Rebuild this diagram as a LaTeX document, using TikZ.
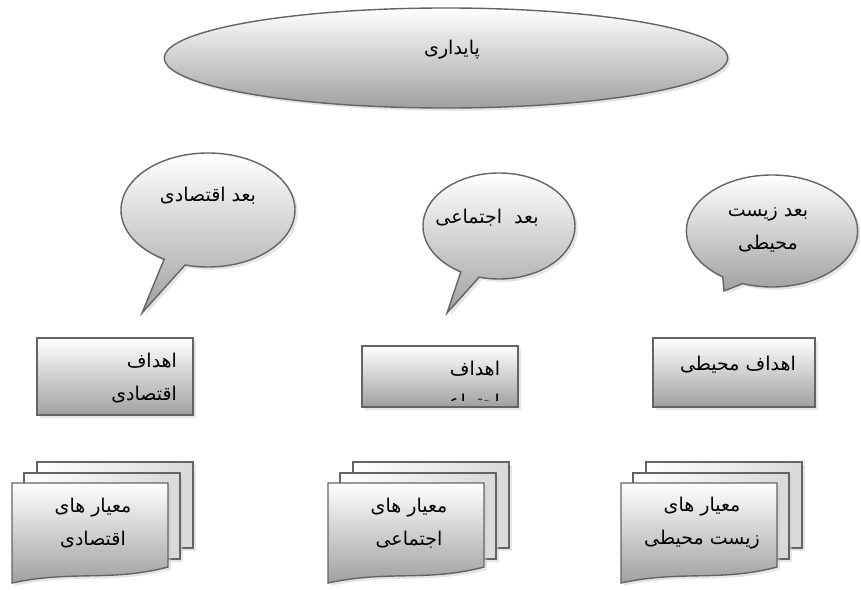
\documentclass[tikz,border=0pt]{standalone}
\usepackage{fontspec}
\usepackage{tikz}
\usetikzlibrary{shapes.geometric,shapes.callouts}
\usetikzlibrary{shadows}

\newfontfamily\farsi[Script=Arabic]{DejaVu Sans}
\TeXXeTstate=1
\definecolor{linegray}{RGB}{100,100,100}
\definecolor{shadegray}{RGB}{160,160,160}
\newcommand{\fa}[1]{\beginR #1\endR}

\begin{document}
\begin{tikzpicture}[x=0.025cm, y=-0.025cm,
  font=\farsi\fontsize{13.5}{23.5}\selectfont,
  frame/.style={draw=linegray, line width=1pt,
    drop shadow={shadow xshift=2pt, shadow yshift=-2pt, fill=gray!40}},
  shaded/.style={frame, top color=white, bottom color=shadegray},
  bubble/.style={shaded, ellipse callout, inner sep=0pt},
  goalbox/.style={shaded, rectangle, inner sep=0pt},
  txt/.style={inner sep=0pt, align=center}]
  \useasboundingbox (0,0) rectangle (861,591);

  % sustainability
  \node[shaded, ellipse, inner sep=0pt, minimum width=14.08cm, minimum height=2.5cm] (sust) at (446,58) {};
  \node[txt] (sust-text) at (452,50) {\fa{پایداری}};

  % dimensions
  \node[bubble, minimum width=4.35cm, minimum height=2.85cm,
        callout absolute pointer={(142,313)}] (econ) at (208,210) {};
  \node[bubble, minimum width=3.8cm, minimum height=2.65cm,
        callout absolute pointer={(447,313)}] (soc) at (499,226) {};
  \node[bubble, minimum width=4.28cm, minimum height=2.8cm,
        callout absolute pointer={(724,291)}] (env) at (772,231) {};
  \node[txt] (econ-text) at (208,196) {\fa{بعد اقتصادی}};
  \node[txt] (soc-text) at (487,218) {\fa{بعد\ \ اجتماعی}};
  \node[txt] (env-text) at (768,230) {\fa{بعد زیست}\\\fa{محیطی}};

  % goals
  \node[goalbox, minimum width=3.9cm, minimum height=1.925cm] (econ-goal) at (115,376.5) {};
  \node[goalbox, minimum width=3.9cm, minimum height=1.525cm] (soc-goal) at (440,376.5) {};
  \node[goalbox, minimum width=4.05cm, minimum height=1.725cm] (env-goal) at (734,372.5) {};
  \node[txt, align=right, text width=3.1cm] (econ-goal-text) at (115,378.5) {\fa{اهداف}\\\fa{اقتصادی}};
  \begin{scope}
    \clip (soc-goal.north west) rectangle ([yshift=5pt]soc-goal.south east);
    \node[txt, align=right, text width=3cm] (soc-goal-text) at (440,386.5) {\fa{اهداف}\\\fa{اجتماعی}};
  \end{scope}
  \node[txt] (env-goal-text) at (738,365) {\fa{اهداف محیطی}};

  % criteria
  \foreach \dx/\nm/\lbl in {12/econ/اقتصادی, 328/soc/اجتماعی, 621/env/زیست محیطی} {
    \draw[frame, left color=white, right color=gray!30] (\dx+25,462) rectangle (\dx+181,548);
    \draw[frame, left color=white, right color=gray!30] (\dx+12,473) rectangle (\dx+168,559);
    \draw[shaded] (\dx,483) -- (\dx+156,483) -- (\dx+156,567)
      .. controls (\dx+100,582) and (\dx+60,570) .. (\dx,583) -- cycle;
    \node[txt] (\nm-crit) at (\dx+81,523.5) {\fa{معیار های}\\\fa{\lbl}};
  }
\end{tikzpicture}
\end{document}
